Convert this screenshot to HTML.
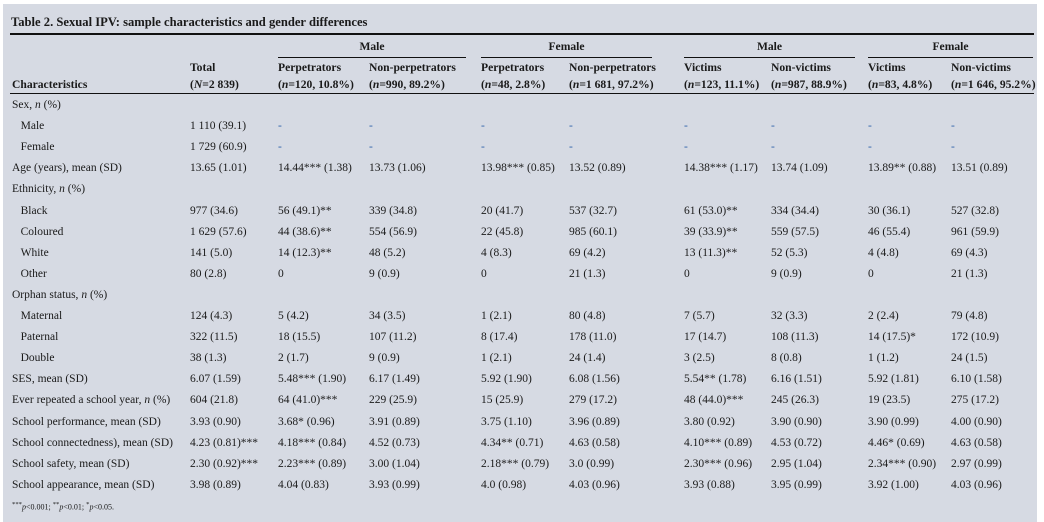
<!DOCTYPE html>
<html><head><meta charset="utf-8"><style>
body{margin:0;width:1044px;height:522px;background:#fff;overflow:hidden;position:relative;font-family:"Liberation Serif",serif;color:#1a1a1a}
#card{position:absolute;left:3px;top:4px;width:1034px;height:518px;background:#d6dae3}
.t{position:absolute;font-size:11.5px;white-space:nowrap;line-height:13px}
.b{font-weight:bold;font-size:11.6px}
.r{position:absolute;background:#111}
.d{color:#2a5fa8}
</style></head><body>
<div id="card"></div>
<div class="t b" style="left:11px;top:16px;font-size:12.6px">Table 2. Sexual IPV: sample characteristics and gender differences</div>
<div class="r" style="left:10px;top:33px;width:1024px;height:2px"></div>
<div class="r" style="left:10px;top:93px;width:1024px;height:1px"></div>
<div id="root"></div>
<script>
const groups=[["Male",278,466],["Female",481,652],["Male",684,855],["Female",868,1033]];
const colX=[12,190,278,369,481,569,684,771,868,951];
const head1=["","Total","Perpetrators","Non-perpetrators","Perpetrators","Non-perpetrators","Victims","Non-victims","Victims","Non-victims"];
const head2=["Characteristics","(<i>N</i>=2 839)","(<i>n</i>=120, 10.8%)","(<i>n</i>=990, 89.2%)","(<i>n</i>=48, 2.8%)","(<i>n</i>=1 681, 97.2%)","(<i>n</i>=123, 11.1%)","(<i>n</i>=987, 88.9%)","(<i>n</i>=83, 4.8%)","(<i>n</i>=1 646, 95.2%)"];
const rows=[
["Sex, <i>n</i> (%)"],
["&nbsp;&nbsp;&nbsp;Male","1 110 (39.1)","-","-","-","-","-","-","-","-"],
["&nbsp;&nbsp;&nbsp;Female","1 729 (60.9)","-","-","-","-","-","-","-","-"],
["Age (years), mean (SD)","13.65 (1.01)","14.44*** (1.38)","13.73 (1.06)","13.98*** (0.85)","13.52 (0.89)","14.38*** (1.17)","13.74 (1.09)","13.89** (0.88)","13.51 (0.89)"],
["Ethnicity, <i>n</i> (%)"],
["&nbsp;&nbsp;&nbsp;Black","977 (34.6)","56 (49.1)**","339 (34.8)","20 (41.7)","537 (32.7)","61 (53.0)**","334 (34.4)","30 (36.1)","527 (32.8)"],
["&nbsp;&nbsp;&nbsp;Coloured","1 629 (57.6)","44 (38.6)**","554 (56.9)","22 (45.8)","985 (60.1)","39 (33.9)**","559 (57.5)","46 (55.4)","961 (59.9)"],
["&nbsp;&nbsp;&nbsp;White","141 (5.0)","14 (12.3)**","48 (5.2)","4 (8.3)","69 (4.2)","13 (11.3)**","52 (5.3)","4 (4.8)","69 (4.3)"],
["&nbsp;&nbsp;&nbsp;Other","80 (2.8)","0","9 (0.9)","0","21 (1.3)","0","9 (0.9)","0","21 (1.3)"],
["Orphan status, <i>n</i> (%)"],
["&nbsp;&nbsp;&nbsp;Maternal","124 (4.3)","5 (4.2)","34 (3.5)","1 (2.1)","80 (4.8)","7 (5.7)","32 (3.3)","2 (2.4)","79 (4.8)"],
["&nbsp;&nbsp;&nbsp;Paternal","322 (11.5)","18 (15.5)","107 (11.2)","8 (17.4)","178 (11.0)","17 (14.7)","108 (11.3)","14 (17.5)*","172 (10.9)"],
["&nbsp;&nbsp;&nbsp;Double","38 (1.3)","2 (1.7)","9 (0.9)","1 (2.1)","24 (1.4)","3 (2.5)","8 (0.8)","1 (1.2)","24 (1.5)"],
["SES, mean (SD)","6.07 (1.59)","5.48*** (1.90)","6.17 (1.49)","5.92 (1.90)","6.08 (1.56)","5.54** (1.78)","6.16 (1.51)","5.92 (1.81)","6.10 (1.58)"],
["Ever repeated a school year, <i>n</i> (%)","604 (21.8)","64 (41.0)***","229 (25.9)","15 (25.9)","279 (17.2)","48 (44.0)***","245 (26.3)","19 (23.5)","275 (17.2)"],
["School performance, mean (SD)","3.93 (0.90)","3.68* (0.96)","3.91 (0.89)","3.75 (1.10)","3.96 (0.89)","3.80 (0.92)","3.90 (0.90)","3.90 (0.99)","4.00 (0.90)"],
["School connectedness), mean (SD)","4.23 (0.81)***","4.18*** (0.84)","4.52 (0.73)","4.34** (0.71)","4.63 (0.58)","4.10*** (0.89)","4.53 (0.72)","4.46* (0.69)","4.63 (0.58)"],
["School safety, mean (SD)","2.30 (0.92)***","2.23*** (0.89)","3.00 (1.04)","2.18*** (0.79)","3.0 (0.99)","2.30*** (0.96)","2.95 (1.04)","2.34*** (0.90)","2.97 (0.99)"],
["School appearance, mean (SD)","3.98 (0.89)","4.04 (0.83)","3.93 (0.99)","4.0 (0.98)","4.03 (0.96)","3.93 (0.88)","3.95 (0.99)","3.92 (1.00)","4.03 (0.96)"]
];
const root=document.getElementById('root');
function txt(html,x,y,cls){const e=document.createElement('div');e.className='t '+(cls||'');e.style.left=x+'px';e.style.top=y+'px';e.innerHTML=html;root.appendChild(e);return e;}
groups.forEach(g=>{
  const e=txt(g[0],g[1],40,'b');
  
  
  e.style.width=(g[2]-g[1])+'px';e.style.textAlign='center';
  const l=document.createElement('div');l.className='r';l.style.left=g[1]+'px';l.style.top='57px';l.style.width=(g[2]-g[1])+'px';l.style.height='1px';
  
  
  root.appendChild(l);
});
colX.forEach((x,i)=>{
  if(head1[i]){const a=txt(head1[i],x,61,'b');
  
  }
  const b=txt(head2[i],x,78,'b');
  
  
});
rows.forEach((r,ri)=>{
  const y=99+ri*21.1;
  r.forEach((c,ci)=>{
    const e=txt(c,colX[ci],y,c==='-'?'d':'');
    
    
  });
});
const f=txt("<sup>***</sup><i>p</i>&lt;0.001; <sup>**</sup><i>p</i>&lt;0.01; <sup>*</sup><i>p</i>&lt;0.05.",12,498,'');
f.style.fontSize='8px';


</script>
</body></html>
